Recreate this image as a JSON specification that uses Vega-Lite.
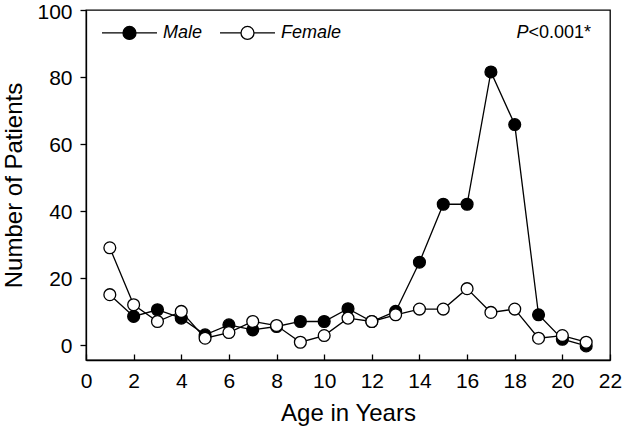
{
  "$schema": "https://vega.github.io/schema/vega-lite/v6.json",
  "width": 524,
  "height": 350,
  "autosize": "none",
  "padding": {"left": 86, "top": 10, "right": 12, "bottom": 71},
  "background": "white",
  "config": {
    "font": "Liberation Sans",
    "view": {"stroke": "black", "strokeWidth": 1.3},
    "axis": {
      "domainColor": "black", "domainWidth": 1.3,
      "tickColor": "black", "tickWidth": 1.3,
      "labelColor": "black", "labelFont": "Liberation Sans", "labelFontSize": 21,
      "titleColor": "black", "titleFont": "Liberation Sans", "titleFontSize": 24, "titleFontWeight": "normal",
      "grid": false
    }
  },
  "datasets": {
    "patients": [
      {"age": 1, "sex": "Male", "count": 15},
      {"age": 2, "sex": "Male", "count": 8.5},
      {"age": 3, "sex": "Male", "count": 10.5},
      {"age": 4, "sex": "Male", "count": 8},
      {"age": 5, "sex": "Male", "count": 3},
      {"age": 6, "sex": "Male", "count": 6},
      {"age": 7, "sex": "Male", "count": 4.5},
      {"age": 8, "sex": "Male", "count": 5.5},
      {"age": 9, "sex": "Male", "count": 7},
      {"age": 10, "sex": "Male", "count": 7},
      {"age": 11, "sex": "Male", "count": 10.8},
      {"age": 12, "sex": "Male", "count": 7},
      {"age": 13, "sex": "Male", "count": 10},
      {"age": 14, "sex": "Male", "count": 24.7},
      {"age": 15, "sex": "Male", "count": 42},
      {"age": 16, "sex": "Male", "count": 42},
      {"age": 17, "sex": "Male", "count": 81.5},
      {"age": 18, "sex": "Male", "count": 65.8},
      {"age": 19, "sex": "Male", "count": 9},
      {"age": 20, "sex": "Male", "count": 1.7},
      {"age": 21, "sex": "Male", "count": -0.3},
      {"age": 1, "sex": "Female", "count": 29},
      {"age": 2, "sex": "Female", "count": 12},
      {"age": 3, "sex": "Female", "count": 7},
      {"age": 4, "sex": "Female", "count": 10},
      {"age": 5, "sex": "Female", "count": 2},
      {"age": 6, "sex": "Female", "count": 3.7},
      {"age": 7, "sex": "Female", "count": 7},
      {"age": 8, "sex": "Female", "count": 5.8},
      {"age": 9, "sex": "Female", "count": 0.8},
      {"age": 10, "sex": "Female", "count": 2.8},
      {"age": 11, "sex": "Female", "count": 8},
      {"age": 12, "sex": "Female", "count": 7},
      {"age": 13, "sex": "Female", "count": 9},
      {"age": 14, "sex": "Female", "count": 10.7},
      {"age": 15, "sex": "Female", "count": 10.7},
      {"age": 16, "sex": "Female", "count": 16.8},
      {"age": 17, "sex": "Female", "count": 9.7},
      {"age": 18, "sex": "Female", "count": 10.7},
      {"age": 19, "sex": "Female", "count": 2},
      {"age": 20, "sex": "Female", "count": 2.8},
      {"age": 21, "sex": "Female", "count": 0.8}
    ],
    "note": [{"stat": "P", "rest": "<0.001*"}]
  },
  "layer": [
    {
      "data": {"name": "patients"},
      "mark": {"type": "line", "stroke": "black", "strokeWidth": 1.3},
      "encoding": {
        "x": {
          "field": "age", "type": "quantitative",
          "scale": {"domain": [0, 22], "nice": false, "zero": false},
          "axis": {"title": "Age in Years", "values": [0, 2, 4, 6, 8, 10, 12, 14, 16, 18, 20, 22], "tickSize": -6, "labelPadding": 16, "titlePadding": 10, "labelFlush": false}
        },
        "y": {
          "field": "count", "type": "quantitative",
          "scale": {"domain": [-4.5, 100], "nice": false, "zero": false},
          "axis": {"title": "Number of Patients", "values": [0, 20, 40, 60, 80, 100], "tickSize": 6, "labelPadding": 8, "titlePadding": 10, "labelFlush": false, "labelOffset": 2}
        },
        "detail": {"field": "sex"}
      }
    },
    {
      "data": {"name": "patients"},
      "mark": {"type": "point", "filled": true, "shape": "circle", "size": 140, "stroke": "black", "strokeWidth": 1.3, "opacity": 1},
      "encoding": {
        "x": {"field": "age", "type": "quantitative"},
        "y": {"field": "count", "type": "quantitative"},
        "fill": {
          "condition": {"test": "datum.sex === 'Male' && datum.age === 1", "value": "white"},
          "field": "sex", "type": "nominal",
          "scale": {"domain": ["Male", "Female"], "range": ["black", "white"]},
          "legend": {
            "orient": "none", "legendX": 34.5, "legendY": 13.5,
            "direction": "horizontal", "title": null,
            "symbolType": "M-4.23,0L-1,0M1,0L4.23,0M-1,0A1,1,0,1,0,1,0A1,1,0,1,0,-1,0Z",
            "symbolSize": 169, "symbolStrokeColor": "black", "symbolStrokeWidth": 1.3, "symbolOpacity": 1,
            "labelFont": "Liberation Sans", "labelFontSize": 18, "labelFontStyle": "italic", "labelColor": "black",
            "labelOffset": 24.5, "columnPadding": 14, "padding": 0
          }
        }
      }
    },
    {
      "data": {"name": "note"},
      "mark": {"type": "text", "align": "right", "baseline": "middle", "dx": -19, "fontSize": 18, "font": "Liberation Sans", "color": "black"},
      "encoding": {
        "x": {"datum": 22, "type": "quantitative"},
        "y": {"datum": 93.1, "type": "quantitative"},
        "text": {"field": "rest"}
      }
    },
    {
      "data": {"name": "note"},
      "mark": {"type": "text", "align": "right", "baseline": "middle", "dx": -81.5, "fontSize": 18, "fontStyle": "italic", "font": "Liberation Sans", "color": "black"},
      "encoding": {
        "x": {"datum": 22, "type": "quantitative"},
        "y": {"datum": 93.1, "type": "quantitative"},
        "text": {"field": "stat"}
      }
    }
  ]
}
